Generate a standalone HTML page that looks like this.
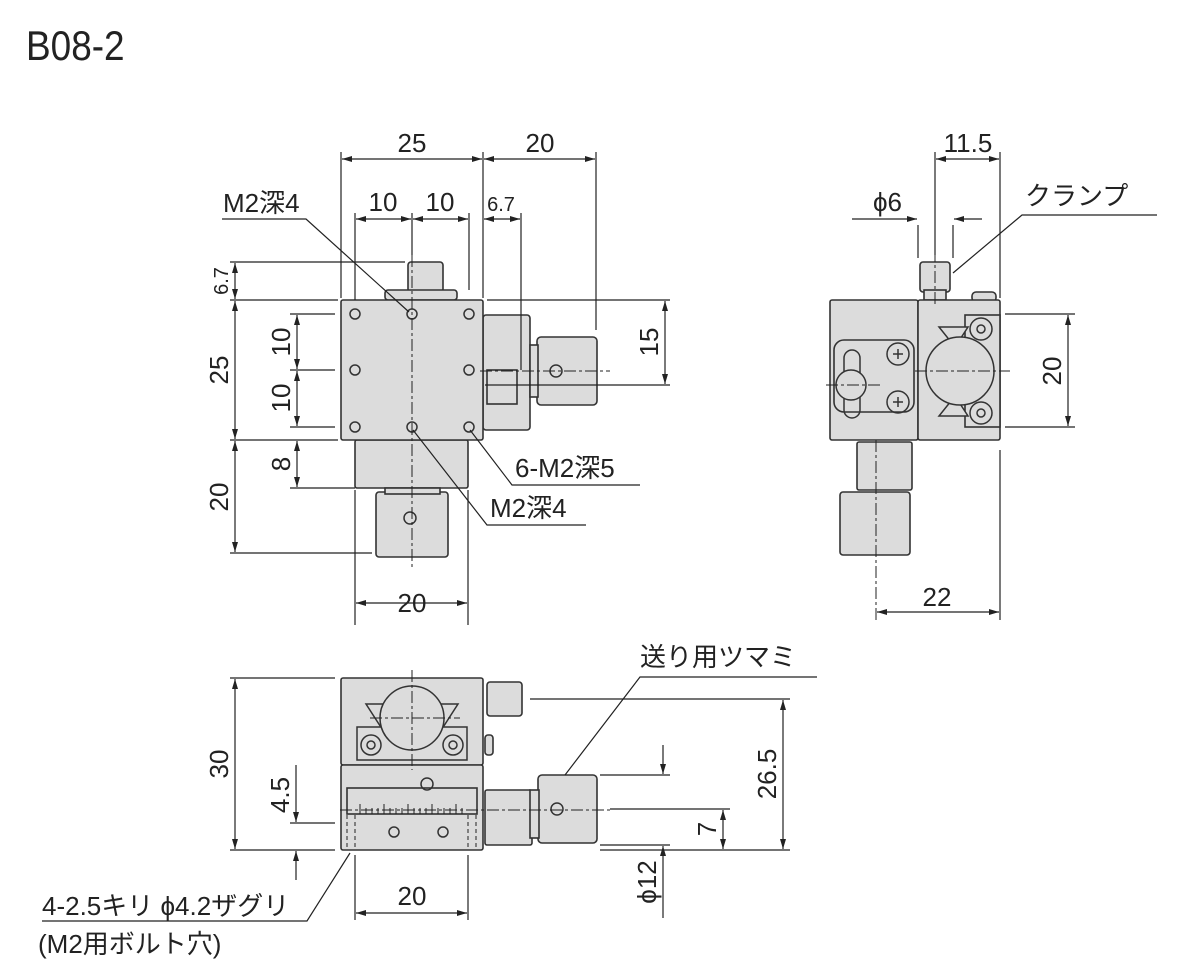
<!DOCTYPE html>
<html><head><meta charset="utf-8"><style>
html,body{margin:0;padding:0;background:#fff;width:1200px;height:978px;overflow:hidden}
svg{display:block}
text{font-family:"Liberation Sans","Noto Sans CJK JP",sans-serif;fill:#222}
</style></head><body>
<svg width="1200" height="978" viewBox="0 0 1200 978" xmlns="http://www.w3.org/2000/svg">
<defs>
<marker id="a" viewBox="0 0 10 6" refX="10" refY="3" markerWidth="10" markerHeight="6" orient="auto-start-reverse" markerUnits="userSpaceOnUse"><path d="M0,0L10,3L0,6z" fill="#222"/></marker>
</defs>
<text transform="translate(26,60) scale(0.88,1)" font-size="42">B08-2</text>
<g stroke="#222" stroke-width="1.2" fill="none">
<!-- ===== TOP VIEW ===== -->
<g fill="#dcdcdc" stroke="#333" stroke-width="1.6">
<rect x="355" y="440" width="113" height="48" rx="2"/>
<rect x="376" y="492" width="72" height="65" rx="3"/>
<rect x="385" y="488" width="55" height="6"/>
<rect x="483" y="315" width="47" height="115" rx="3"/>
<rect x="537" y="337" width="60" height="68" rx="4"/>
<rect x="530" y="345" width="8" height="52"/>
<rect x="408" y="262" width="35" height="30" rx="3"/>
<rect x="385" y="290" width="72" height="10" rx="3"/>
<rect x="341" y="300" width="142" height="140" rx="2"/>
<rect x="487" y="370" width="30" height="34"/>
</g>
<g stroke="#333" stroke-width="1.5">
<circle cx="355" cy="314" r="5"/><circle cx="412" cy="314" r="5"/><circle cx="469" cy="314" r="5"/>
<circle cx="355" cy="370" r="5"/><circle cx="469" cy="370" r="5"/>
<circle cx="355" cy="427" r="5"/><circle cx="412" cy="427" r="5"/><circle cx="469" cy="427" r="5"/>
<circle cx="410" cy="518" r="6"/><circle cx="556" cy="371" r="6"/>
</g>
<g stroke-dasharray="12,3,3,3" stroke-width="1">
<line x1="412" y1="255" x2="412" y2="570"/>
<line x1="480" y1="371" x2="610" y2="371"/>
</g>
<line x1="341" y1="152" x2="341" y2="298"/><line x1="483" y1="152" x2="483" y2="298"/><line x1="596" y1="152" x2="596" y2="330"/>
<line x1="342" y1="159" x2="482" y2="159" marker-start="url(#a)" marker-end="url(#a)"/>
<line x1="484" y1="159" x2="595" y2="159" marker-start="url(#a)" marker-end="url(#a)"/>
<line x1="355" y1="213" x2="355" y2="300"/><line x1="412" y1="213" x2="412" y2="255"/><line x1="469" y1="213" x2="469" y2="290"/>
<line x1="356" y1="219" x2="411" y2="219" marker-start="url(#a)" marker-end="url(#a)"/>
<line x1="413" y1="219" x2="468" y2="219" marker-start="url(#a)" marker-end="url(#a)"/>
<line x1="521" y1="213" x2="521" y2="370"/>
<line x1="484" y1="219" x2="520" y2="219" marker-start="url(#a)" marker-end="url(#a)"/>
<line x1="230" y1="262" x2="405" y2="262"/><line x1="230" y1="300" x2="338" y2="300"/><line x1="487" y1="300" x2="670" y2="300"/>
<line x1="230" y1="440" x2="338" y2="440"/><line x1="230" y1="553" x2="372" y2="553"/>
<line x1="235" y1="263" x2="235" y2="299" marker-start="url(#a)" marker-end="url(#a)"/>
<line x1="235" y1="301" x2="235" y2="439" marker-start="url(#a)" marker-end="url(#a)"/>
<line x1="235" y1="441" x2="235" y2="552" marker-start="url(#a)" marker-end="url(#a)"/>
<line x1="290" y1="314" x2="335" y2="314"/><line x1="290" y1="370" x2="335" y2="370"/><line x1="290" y1="427" x2="335" y2="427"/>
<line x1="297" y1="315" x2="297" y2="369" marker-start="url(#a)" marker-end="url(#a)"/>
<line x1="297" y1="371" x2="297" y2="426" marker-start="url(#a)" marker-end="url(#a)"/>
<line x1="290" y1="488" x2="355" y2="488"/>
<line x1="297" y1="441" x2="297" y2="487" marker-start="url(#a)" marker-end="url(#a)"/>
<line x1="485" y1="385" x2="670" y2="385"/>
<line x1="665" y1="301" x2="665" y2="384" marker-start="url(#a)" marker-end="url(#a)"/>
<line x1="355" y1="490" x2="355" y2="625"/><line x1="468" y1="490" x2="468" y2="625"/>
<line x1="356" y1="603" x2="467" y2="603" marker-start="url(#a)" marker-end="url(#a)"/>
<polyline points="222,219 306,219 409,312"/>
<polyline points="470,430 512,485 640,485"/>
<polyline points="413,430 487,525 586,525"/>
<!-- ===== SIDE VIEW ===== -->
<g fill="#dcdcdc" stroke="#333" stroke-width="1.6">
<rect x="857" y="442" width="55" height="48" rx="2"/>
<rect x="840" y="492" width="70" height="63" rx="3"/>
<rect x="920" y="262" width="30" height="30" rx="3"/>
<rect x="924" y="290" width="22" height="10"/>
<rect x="972" y="292" width="24" height="10" rx="4"/>
<rect x="830" y="300" width="88" height="140" rx="2"/>
<rect x="918" y="300" width="82" height="140" rx="2"/>
<rect x="834" y="340" width="80" height="72" rx="10"/>
<rect x="965" y="315" width="35" height="112"/>
</g>
<g stroke="#333" stroke-width="1.5">
<path d="M939,327 L968,327 L955,347Z M939,416 L968,416 L955,396Z" fill="#dcdcdc"/>
<circle cx="960" cy="371" r="34" fill="#dcdcdc"/>
<circle cx="981" cy="329" r="11" fill="#dcdcdc"/><circle cx="981" cy="329" r="4"/>
<circle cx="981" cy="413" r="11" fill="#dcdcdc"/><circle cx="981" cy="413" r="4"/>
<circle cx="898" cy="354" r="11"/><circle cx="898" cy="402" r="11"/>
<path d="M893,354h10M898,349v10M893,402h10M898,397v10"/>
<rect x="844" y="350" width="16" height="68" rx="8"/>
<circle cx="851" cy="385" r="15" fill="#dcdcdc"/>
</g>
<g stroke-dasharray="12,3,3,3" stroke-width="1">
<line x1="935" y1="250" x2="935" y2="305"/>
<line x1="876" y1="440" x2="876" y2="620"/>
<line x1="915" y1="371" x2="1010" y2="371"/>
<line x1="826" y1="385" x2="880" y2="385"/>
</g>
<line x1="935" y1="152" x2="935" y2="255"/><line x1="1000" y1="152" x2="1000" y2="298"/>
<line x1="936" y1="159" x2="999" y2="159" marker-start="url(#a)" marker-end="url(#a)"/>
<line x1="918" y1="225" x2="918" y2="258"/><line x1="953" y1="225" x2="953" y2="258"/>
<line x1="852" y1="219" x2="917" y2="219" marker-end="url(#a)"/>
<line x1="982" y1="219" x2="954" y2="219" marker-end="url(#a)"/>
<polyline points="953,273 1022,215 1157,215"/>
<line x1="1005" y1="314" x2="1075" y2="314"/><line x1="1005" y1="427" x2="1075" y2="427"/>
<line x1="1068" y1="315" x2="1068" y2="426" marker-start="url(#a)" marker-end="url(#a)"/>
<line x1="1000" y1="450" x2="1000" y2="620"/>
<line x1="877" y1="612" x2="999" y2="612" marker-start="url(#a)" marker-end="url(#a)"/>
<!-- ===== FRONT VIEW ===== -->
<g fill="#dcdcdc" stroke="#333" stroke-width="1.6">
<rect x="487" y="682" width="35" height="34" rx="3"/>
<rect x="485" y="735" width="8" height="20" rx="3"/>
<rect x="485" y="790" width="47" height="55" rx="2"/>
<rect x="538" y="775" width="59" height="68" rx="4"/>
<rect x="530" y="790" width="9" height="48"/>
<rect x="341" y="678" width="142" height="87" rx="2"/>
<rect x="341" y="765" width="142" height="85" rx="2"/>
<rect x="347" y="788" width="130" height="26"/>
</g>
<g stroke="#333" stroke-width="1.5">
<path d="M366,704 L458,704 L440,732 L384,732Z" fill="#dcdcdc"/>
<rect x="357" y="727" width="110" height="33" fill="#dcdcdc"/>
<circle cx="412" cy="718" r="32" fill="#dcdcdc"/>
<circle cx="371" cy="745" r="10" fill="#dcdcdc"/><circle cx="371" cy="745" r="4"/>
<circle cx="453" cy="745" r="10" fill="#dcdcdc"/><circle cx="453" cy="745" r="4"/>
<circle cx="427" cy="784" r="6"/>
<circle cx="394" cy="832" r="5"/><circle cx="443" cy="832" r="5"/>
<circle cx="557" cy="809" r="6"/>
</g>
<path d="M360,814v-10M366,814v-6M372,814v-6M378,814v-6M384,814v-10M390,814v-6M396,814v-6M402,814v-6M408,814v-10M414,814v-6M420,814v-6M426,814v-6M432,814v-10M438,814v-6M444,814v-6M450,814v-6M456,814v-10M462,814v-6" stroke-width="1"/>
<g stroke-dasharray="12,3,3,3" stroke-width="1">
<line x1="412" y1="670" x2="412" y2="770"/>
<line x1="370" y1="718" x2="460" y2="718"/>
<line x1="340" y1="810" x2="610" y2="810"/>
</g>
<g stroke-dasharray="4,3" stroke-width="1">
<line x1="347" y1="815" x2="347" y2="850"/><line x1="355" y1="815" x2="355" y2="850"/>
<line x1="468" y1="815" x2="468" y2="850"/><line x1="476" y1="815" x2="476" y2="850"/>
</g>
<line x1="230" y1="678" x2="335" y2="678"/><line x1="230" y1="850" x2="335" y2="850"/>
<line x1="235" y1="679" x2="235" y2="849" marker-start="url(#a)" marker-end="url(#a)"/>
<line x1="290" y1="823" x2="335" y2="823"/>
<line x1="296" y1="765" x2="296" y2="822" marker-end="url(#a)"/>
<line x1="296" y1="880" x2="296" y2="851" marker-end="url(#a)"/>
<line x1="530" y1="699" x2="790" y2="699"/><line x1="600" y1="850" x2="790" y2="850"/>
<line x1="783" y1="700" x2="783" y2="849" marker-start="url(#a)" marker-end="url(#a)"/>
<line x1="610" y1="809" x2="730" y2="809"/>
<line x1="723" y1="810" x2="723" y2="849" marker-start="url(#a)" marker-end="url(#a)"/>
<line x1="600" y1="775" x2="670" y2="775"/><line x1="600" y1="845" x2="670" y2="845"/>
<line x1="663" y1="745" x2="663" y2="774" marker-end="url(#a)"/>
<line x1="663" y1="918" x2="663" y2="846" marker-end="url(#a)"/>
<polyline points="565,775 640,677 817,677"/>
<line x1="355" y1="855" x2="355" y2="920"/><line x1="468" y1="855" x2="468" y2="920"/>
<line x1="356" y1="913" x2="467" y2="913" marker-start="url(#a)" marker-end="url(#a)"/>
<polyline points="42,921 307,921 350,853"/>
</g>
<g font-size="26">
<text x="412" y="152" text-anchor="middle">25</text>
<text x="540" y="152" text-anchor="middle">20</text>
<text x="383" y="211" text-anchor="middle">10</text>
<text x="440" y="211" text-anchor="middle">10</text>
<text x="501" y="211" text-anchor="middle" font-size="20">6.7</text>
<text x="223" y="212">M2深4</text>
<text x="515" y="477">6-M2深5</text>
<text x="490" y="517">M2深4</text>
<text x="412" y="612" text-anchor="middle">20</text>
<text x="968" y="152" text-anchor="middle">11.5</text>
<text x="873" y="211">ϕ6</text>
<text x="1025" y="205">クランプ</text>
<text x="937" y="606" text-anchor="middle">22</text>
<text x="640" y="666">送り用ツマミ</text>
<text x="412" y="905" text-anchor="middle">20</text>
<text x="42" y="915">4-2.5キリ ϕ4.2ザグリ</text>
<text x="38" y="953">(M2用ボルト穴)</text>
</g>
<g font-size="26">
<text transform="translate(228,281) rotate(-90)" text-anchor="middle" font-size="20">6.7</text>
<text transform="translate(228,370) rotate(-90)" text-anchor="middle">25</text>
<text transform="translate(228,497) rotate(-90)" text-anchor="middle">20</text>
<text transform="translate(290,342) rotate(-90)" text-anchor="middle">10</text>
<text transform="translate(290,398) rotate(-90)" text-anchor="middle">10</text>
<text transform="translate(290,464) rotate(-90)" text-anchor="middle">8</text>
<text transform="translate(658,342) rotate(-90)" text-anchor="middle">15</text>
<text transform="translate(1061,371) rotate(-90)" text-anchor="middle">20</text>
<text transform="translate(228,764) rotate(-90)" text-anchor="middle">30</text>
<text transform="translate(289,795) rotate(-90)" text-anchor="middle">4.5</text>
<text transform="translate(776,774) rotate(-90)" text-anchor="middle">26.5</text>
<text transform="translate(716,829) rotate(-90)" text-anchor="middle">7</text>
<text transform="translate(656,882) rotate(-90)" text-anchor="middle">ϕ12</text>
</g>
</svg>
</body></html>
